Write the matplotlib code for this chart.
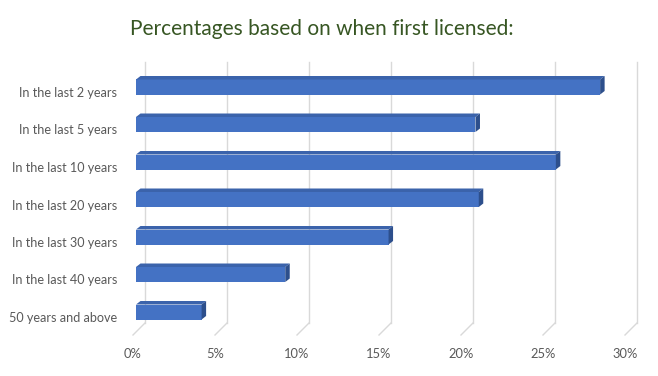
import numpy as np
import matplotlib.pyplot as plt
from matplotlib.patches import Polygon

plt.rcParams['font.family'] = ['Lato', 'DejaVu Sans']

categories = ["In the last 2 years", "In the last 5 years", "In the last 10 years",
              "In the last 20 years", "In the last 30 years", "In the last 40 years",
              "50 years and above"]
values = [28.3, 20.7, 25.6, 20.9, 15.4, 9.1, 4.0]
xticks = [0, 5, 10, 15, 20, 25, 30]
xtick_labels = ["0%", "5%", "10%", "15%", "20%", "25%", "30%"]

W, H = 658, 376
fig = plt.figure(figsize=(W / 100, H / 100), dpi=100)

# plot area in pixels (front plane): x 0% -> 133, 30% -> 625 ; y top 62, bottom 335
ax = fig.add_axes([133 / W, (H - 335) / H, 492 / W, 273 / H])
ax.set_xlim(0, 30)
ax.set_ylim(-0.48, 6.8)

px_x = 30 / 492          # data units per pixel, x
px_y = 7.28 / 273        # data units per pixel, y

front = '#4472C4'
top_c = '#3B63AB'
side_c = '#2D4F8C'
grid_c = '#D9D9D9'

# back wall gridlines + floor diagonals
gx = 12 * px_x
back_floor = -0.48 + 12 * px_y
for t in xticks:
    ax.plot([t + gx, t + gx], [back_floor, 6.8], color=grid_c, lw=1, clip_on=False, zorder=1)
    ax.plot([t + gx, t], [back_floor, -0.48], color=grid_c, lw=1, clip_on=False, zorder=1)

ypos = np.arange(len(categories))[::-1]
z0 = 3 * px_x
h = 15 * px_y
shift = 5 * px_y
dx, dy = 4.5 * px_x, 3.5 * px_y
for y, v in zip(ypos, values):
    yc = y + shift
    ax.barh(yc, v, left=z0, height=h, color=front, zorder=3)
    top = yc + h / 2
    bot = yc - h / 2
    ax.add_patch(Polygon([(z0, top), (z0 + v, top), (z0 + v + dx, top + dy), (z0 + dx, top + dy)],
                         closed=True, facecolor=top_c, edgecolor='none', zorder=3, clip_on=False))
    ax.add_patch(Polygon([(z0 + v, bot), (z0 + v, top), (z0 + v + dx, top + dy), (z0 + v + dx, bot + dy)],
                         closed=True, facecolor=side_c, edgecolor='none', zorder=3, clip_on=False))

ax.set_yticks(ypos, categories)
ax.set_xticks(xticks, xtick_labels)
ax.tick_params(axis='y', length=0, pad=11.5, labelsize=9.1, labelcolor='#595959')
ax.tick_params(axis='x', length=0, pad=9, labelsize=9.3, labelcolor='#595959')
for s in ax.spines.values():
    s.set_visible(False)

fig.text(322 / W, 1 - 29 / H, "Percentages based on when first licensed:",
         ha='center', va='center', fontsize=15, color='#375623')

fig.savefig('out.png', dpi=100)
